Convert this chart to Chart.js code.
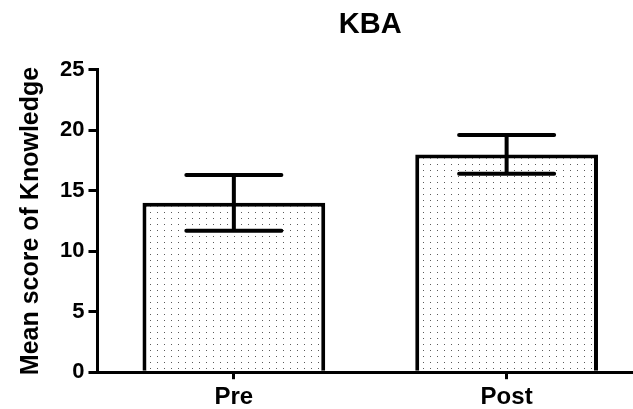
<!DOCTYPE html>
<html>
<head>
<meta charset="utf-8">
<script src="https://cdn.jsdelivr.net/npm/chart.js@4.4.1/dist/chart.umd.min.js"></script>
<style>
  html, body { margin: 0; padding: 0; background: #fff; overflow: hidden; }
  #wrap { width: 645px; height: 416px; position: relative; }
</style>
</head>
<body>
<div id="wrap"><canvas id="c"></canvas></div>
<script>
// Knowledge scores before and after the intervention (mean ± SD)
const categories = ['Pre', 'Post'];
const meanScores = [14.0, 18.0];
const sdScores = [2.3, 1.6];
const yTicks = [0, 5, 10, 15, 20, 25];

// Stippled fill: small grey dots on white
function dotPattern() {
  const t = document.createElement('canvas');
  t.width = 7; t.height = 6;
  const g = t.getContext('2d');
  g.fillStyle = '#fff';
  g.fillRect(0, 0, 7, 6);
  g.fillStyle = '#5a5a5a';
  g.fillRect(3, 2, 1, 1);
  return g.createPattern(t, 'repeat');
}

// Draws SD whiskers with caps on each bar
const errorBars = {
  id: 'errorBars',
  afterDatasetsDraw(chart) {
    const ctx = chart.ctx;
    const y = chart.scales.y;
    const meta = chart.getDatasetMeta(0);
    ctx.save();
    ctx.strokeStyle = '#000';
    ctx.lineWidth = 4;
    ctx.lineCap = 'round';
    meta.data.forEach((bar, i) => {
      const hi = y.getPixelForValue(meanScores[i] + sdScores[i]);
      const lo = y.getPixelForValue(meanScores[i] - sdScores[i]);
      const half = bar.width * 0.26;
      ctx.beginPath();
      ctx.moveTo(bar.x, hi); ctx.lineTo(bar.x, lo);
      ctx.moveTo(bar.x - half, hi); ctx.lineTo(bar.x + half, hi);
      ctx.moveTo(bar.x - half, lo); ctx.lineTo(bar.x + half, lo);
      ctx.stroke();
    });
    ctx.restore();
  }
};

const font = 'Liberation Sans, Arial, Helvetica, sans-serif';

new Chart(document.getElementById('c'), {
  type: 'bar',
  data: {
    labels: categories,
    datasets: [{
      data: meanScores,
      backgroundColor: dotPattern(),
      borderColor: '#000',
      borderWidth: 4,
      borderSkipped: 'bottom',
      barPercentage: 0.67,
      categoryPercentage: 1.0
    }]
  },
  options: {
    responsive: true,
    maintainAspectRatio: false,
    animation: false,
    layout: { padding: { left: 16, right: 2, top: 6, bottom: 0 } },
    plugins: {
      legend: { display: false },
      tooltip: { enabled: false },
      title: {
        display: true,
        text: 'KBA',
        fullSize: false,
        color: '#000',
        font: { family: font, size: 29, weight: 'bold' },
        padding: { top: 2, bottom: 27 }
      }
    },
    scales: {
      x: {
        offset: true,
        grid: { display: true, drawOnChartArea: false, offset: false, drawTicks: true, tickLength: 7, color: '#000', lineWidth: 3 },
        border: { display: true, color: '#000', width: 3 },
        ticks: { color: '#000', font: { family: font, size: 24, weight: 'bold' }, padding: 4 }
      },
      y: {
        min: 0,
        max: 25,
        afterBuildTicks(axis) { axis.ticks = yTicks.map(v => ({ value: v })); },
        grid: { display: true, drawOnChartArea: false, drawTicks: true, tickLength: 9, color: '#000', lineWidth: 3 },
        border: { display: true, color: '#000', width: 3 },
        ticks: { color: '#000', font: { family: font, size: 22, weight: 'bold' }, padding: 4 },
        title: {
          display: true,
          text: 'Mean score of Knowledge',
          color: '#000',
          font: { family: font, size: 25, weight: 'bold' },
          padding: { top: 0, bottom: 10 }
        }
      }
    }
  },
  plugins: [errorBars]
});
</script>
</body>
</html>
